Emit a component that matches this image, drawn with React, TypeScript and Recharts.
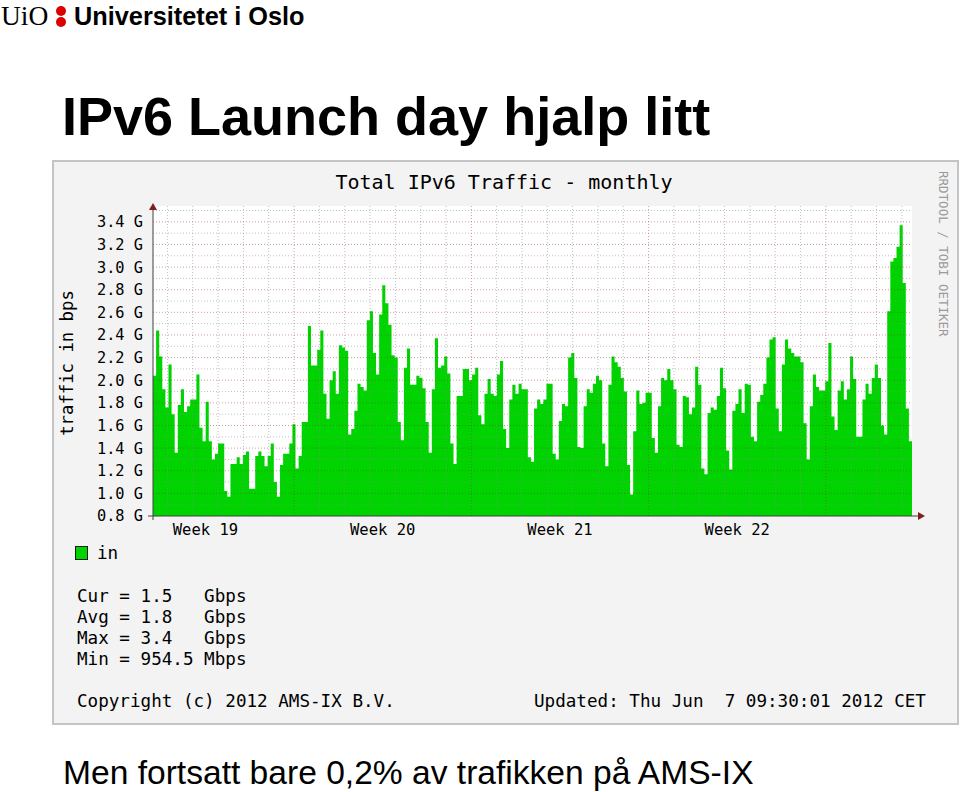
import { Area, ComposedChart, ReferenceLine, XAxis, YAxis } from "recharts";

// total IPv6 "in" traffic, Gbps, one value per step (left to right)
const inGbps = [
  2.04, 2.44, 2.21, 1.92, 1.76, 2.14, 1.7, 1.36, 1.78, 1.92,
  1.72, 1.77, 1.83, 1.83, 2.05, 1.58, 1.46, 1.81, 1.46, 1.3,
  1.35, 1.44, 1.44, 1.02, 0.97, 1.26, 1.26, 1.32, 1.26, 1.34,
  1.37, 1.04, 1.04, 1.33, 1.37, 1.33, 1.24, 1.33, 1.44, 1.1,
  0.97, 1.25, 1.35, 1.35, 1.44, 1.61, 1.22, 1.33, 1.63, 1.63,
  2.48, 2.13, 2.13, 2.27, 2.44, 1.88, 1.66, 2.0, 2.08, 1.88,
  2.31, 2.29, 2.26, 1.52, 1.57, 1.73, 1.97, 1.94, 1.91, 2.53,
  2.61, 2.24, 2.05, 2.58, 2.84, 2.68, 2.49, 2.22, 2.2, 1.63,
  1.47, 2.11, 2.28, 1.96, 1.96, 2.04, 2.02, 1.93, 1.63, 1.36,
  1.92, 2.37, 2.11, 2.13, 2.21, 2.06, 1.44, 1.26, 1.86,
  1.86, 2.1, 2.1, 2.0, 2.05, 2.11, 1.69, 1.61, 1.88, 2.01,
  1.88, 1.86, 2.05, 2.17, 1.57, 1.4, 1.83, 1.96, 1.88, 1.97,
  1.92, 1.92, 1.32, 1.28, 1.75, 1.83, 1.79, 1.83, 1.97, 1.97,
  1.35, 1.3, 1.64, 1.79, 1.77, 2.2, 2.24, 2.02, 1.41, 1.4,
  1.77, 1.92, 1.89, 1.97, 2.04, 2.0, 1.44, 1.24, 1.96,
  2.21, 2.16, 2.12, 2.02, 1.9, 1.25, 0.99, 1.55, 1.91, 1.79,
  1.8, 1.89, 1.89, 1.49, 1.36, 1.77, 2.02, 2.0, 2.1, 2.0,
  1.92, 1.43, 1.41, 1.86, 1.85, 1.7, 1.76, 2.12, 1.96, 1.22,
  1.17, 1.71, 1.76, 1.74, 1.86, 2.11, 1.93, 1.38, 1.21, 1.73,
  1.79, 1.92, 1.71, 1.97, 1.96, 1.5, 1.46, 1.81,
  1.87, 1.97, 2.2, 2.36, 2.38, 1.75, 1.55, 2.14, 2.36, 2.28,
  2.24, 2.21, 2.21, 2.16, 1.62, 1.3, 1.77, 2.05, 1.94, 1.91,
  1.91, 1.99, 2.33, 1.68, 1.56, 1.91, 1.99, 1.83, 1.92, 2.21,
  2.01, 1.5, 1.5, 1.83, 1.97, 1.88, 2.02, 2.14, 2.02, 1.6,
  1.52, 2.61, 3.05, 3.08, 3.18, 3.37, 2.86, 1.75, 1.46,
];

// time axis in days, 0 = Mon 14 May 2012 (start of week 20)
const T_START = -5.57;
const T_END = 24.4;
const weekLabels = ["Week 19", "Week 20", "Week 21", "Week 22"];
const weekMidDays = [-3.5, 3.5, 10.5, 17.5];
const weekStartDays = [0, 7, 14, 21];
const dayLines = [
  -5, -4, -3, -2, -1, 1, 2, 3, 4, 5, 6, 8, 9, 10, 11, 12, 13,
  15, 16, 17, 18, 19, 20, 22, 23, 24,
];

const yTicks = [0.8, 1.0, 1.2, 1.4, 1.6, 1.8, 2.0, 2.2, 2.4, 2.6, 2.8, 3.0, 3.2, 3.4];
const yMinor = [0.9, 1.1, 1.3, 1.5, 1.7, 1.9, 2.1, 2.3, 2.5, 2.7, 2.9, 3.1, 3.3, 3.5];

const stats = [
  "Cur = 1.5   Gbps",
  "Avg = 1.8   Gbps",
  "Max = 3.4   Gbps",
  "Min = 954.5 Mbps",
];

const GREEN = "#00d400";
const MONO = "'DejaVu Sans Mono', monospace";
const SANS = "'Liberation Sans', Arial, sans-serif";

const step = (T_END - T_START) / inGbps.length;
const rows = [...inGbps, inGbps[inGbps.length - 1]].map((v, i) => ({
  t: T_START + i * step,
  v,
}));

const minorStroke = "rgba(140,140,140,0.55)";
const majorStroke = "rgba(150,40,40,0.45)";

export default function App() {
  return (
    <div style={{ position: "absolute", left: 0, top: 0, width: 960, height: 792, background: "#fff", overflow: "hidden" }}>
      <svg width={960} height={792} style={{ position: "absolute", left: 0, top: 0 }}>
        <text x={1} y={25} fontFamily="'Liberation Serif', serif" fontSize={27.5}>UiO</text>
        <circle cx={61} cy={11} r={5} fill="#dd0000" />
        <circle cx={61} cy={22} r={5} fill="#dd0000" />
        <text x={74} y={25} fontFamily={SANS} fontWeight="bold" fontSize={25.3}>Universitetet i Oslo</text>
        <text x={62} y={135} fontFamily={SANS} fontWeight="bold" fontSize={54}>IPv6 Launch day hjalp litt</text>
        <text x={63} y={784} fontFamily={SANS} fontSize={33.6}>Men fortsatt bare 0,2% av trafikken på AMS-IX</text>
        <rect x={53} y={161} width={905} height={563} fill="#f3f3f3" stroke="#c4c4c4" strokeWidth={2} />
        <rect x={153} y={206} width={759} height={310} fill="#ffffff" />
      </svg>

      <div style={{ position: "absolute", left: 0, top: 0 }}>
        <ComposedChart
          width={960}
          height={792}
          data={rows}
          margin={{ top: 206, right: 48, bottom: 246, left: 93 }}
        >
          <XAxis
            type="number"
            dataKey="t"
            domain={[T_START, T_END]}
            allowDataOverflow
            ticks={weekMidDays}
            interval={0}
            tickFormatter={(d: number) => weekLabels[weekMidDays.indexOf(d)]}
            tickLine={false}
            axisLine={false}
            tickMargin={2}
            height={30}
            tick={{ fontFamily: MONO, fontSize: 15.5, fill: "#000" }}
          />
          <YAxis
            type="number"
            domain={[0.8, 3.54]}
            allowDataOverflow
            ticks={yTicks}
            interval={0}
            tickFormatter={(v: number) => v.toFixed(1) + " G"}
            tickLine={false}
            axisLine={false}
            tickMargin={4}
            width={60}
            tick={{ fontFamily: MONO, fontSize: 15.3, fill: "#000" }}
          />
          <Area
            type="stepAfter"
            dataKey="v"
            fill={GREEN}
            fillOpacity={1}
            stroke="none"
            dot={false}
            activeDot={false}
            isAnimationActive={false}
          />
          {dayLines.map((d) => (
            <ReferenceLine key={"d" + d} x={d} stroke={minorStroke} strokeDasharray="1 2" />
          ))}
          {weekStartDays.map((d) => (
            <ReferenceLine key={"w" + d} x={d} stroke={majorStroke} strokeDasharray="1 2" />
          ))}
          {yMinor.map((v) => (
            <ReferenceLine key={"m" + v} y={v} stroke={minorStroke} strokeDasharray="1 2" />
          ))}
          {yTicks.slice(1).map((v) => (
            <ReferenceLine key={"M" + v} y={v} stroke={majorStroke} strokeDasharray="1 2" />
          ))}
        </ComposedChart>
      </div>

      <svg width={960} height={792} style={{ position: "absolute", left: 0, top: 0, pointerEvents: "none" }}>
        <line x1={148} y1={516} x2={918} y2={516} stroke="#404040" strokeWidth={1} />
        <line x1={153} y1={520} x2={153} y2={209} stroke="#404040" strokeWidth={1} />
        <polygon points="918,512 925,516 918,520" fill="#7f1f1f" />
        <polygon points="149,210 153,203 157,210" fill="#7f1f1f" />
        <text x={504} y={189} textAnchor="middle" fontFamily={MONO} fontSize={20}>Total IPv6 Traffic - monthly</text>
        <text transform="translate(73,363) rotate(-90)" textAnchor="middle" fontFamily={MONO} fontSize={17.3}>traffic in bps</text>
        <text transform="translate(939,171) rotate(90)" fontFamily={MONO} fontSize={12.5} fill="#9a9a9a">RRDTOOL / TOBI OETIKER</text>
        <rect x={75.5} y={546.5} width={12} height={13} fill={GREEN} stroke="#1a1a1a" />
        <text x={97} y={559} fontFamily={MONO} fontSize={17.6}>in</text>
        {stats.map((s, i) => (
          <text key={s} x={77} y={602 + i * 21} fontFamily={MONO} fontSize={17.6} style={{ whiteSpace: "pre" }}>{s}</text>
        ))}
        <text x={77} y={707} fontFamily={MONO} fontSize={17.6} style={{ whiteSpace: "pre" }}>Copyright (c) 2012 AMS-IX B.V.</text>
        <text x={534} y={707} fontFamily={MONO} fontSize={17.6} style={{ whiteSpace: "pre" }}>Updated: Thu Jun  7 09:30:01 2012 CET</text>
      </svg>
    </div>
  );
}
